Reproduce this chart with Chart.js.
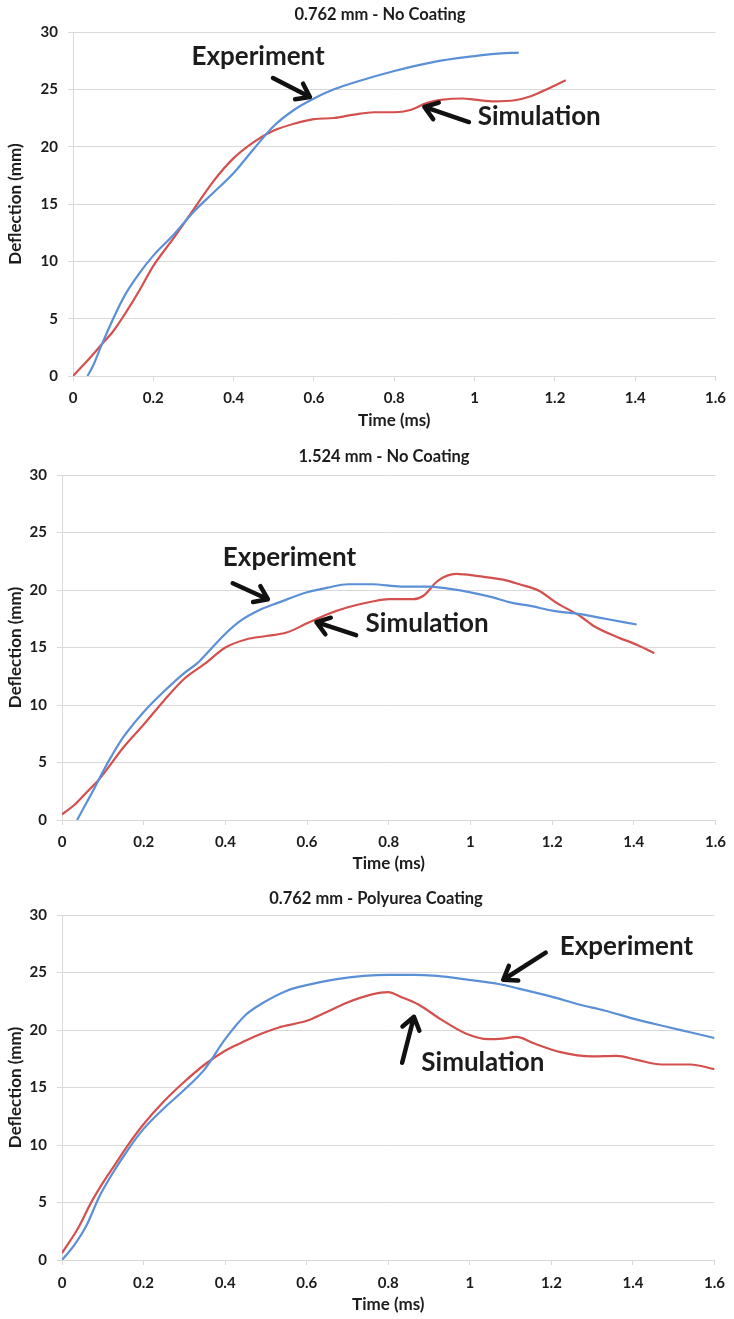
<!DOCTYPE html>
<html><head><meta charset="utf-8">
<script src="https://cdn.jsdelivr.net/npm/chart.js@4.4.0/dist/chart.umd.min.js"></script>
<style>
html,body{margin:0;padding:0;background:#fff;width:734px;height:1319px;overflow:hidden;}
.wrap{position:absolute;left:0;width:734px;}
canvas{display:block;}
</style></head><body>
<div class="wrap" style="top:0;height:440px"><canvas id="c1" width="734" height="440"></canvas></div>
<div class="wrap" style="top:440px;height:440px"><canvas id="c2" width="734" height="440"></canvas></div>
<div class="wrap" style="top:880px;height:439px"><canvas id="c3" width="734" height="439"></canvas></div>
<script>
// ---------- DATA ----------
const xTickLabels = ['0','0.2','0.4','0.6','0.8','1','1.2','1.4','1.6'];
const yTickLabels = ['0','5','10','15','20','25','30'];
const chartTitles = ['0.762 mm - No Coating','1.524 mm - No Coating','0.762 mm - Polyurea Coating'];
const xAxisTitle = 'Time (ms)';
const yAxisTitle = 'Deflection (mm)';
const seriesNames = ['Experiment','Simulation'];

// Chart 1: 0.762 mm - No Coating
const exp1Time = [0.036,0.05,0.07,0.1,0.13,0.166,0.2,0.25,0.3,0.35,0.4,0.45,0.5,0.55,0.6,0.65,0.7,0.8,0.9,1.0,1.05,1.11];
const exp1Defl = [0,0.9,2.6,5.0,7.1,9.0,10.5,12.3,14.3,16.0,17.7,19.8,21.8,23.2,24.2,25.0,25.6,26.6,27.4,27.9,28.1,28.2];
const sim1Time = [0,0.035,0.07,0.1,0.131,0.166,0.2,0.25,0.3,0.35,0.4,0.45,0.5,0.55,0.6,0.65,0.7,0.75,0.8,0.84,0.88,0.92,0.97,1.0,1.05,1.1,1.14,1.18,1.227];
const sim1Defl = [0,1.3,2.7,3.9,5.5,7.5,9.6,12.0,14.5,17.0,19.0,20.4,21.4,22.0,22.4,22.5,22.8,23.0,23.0,23.2,23.8,24.1,24.2,24.1,23.95,24.05,24.4,25.0,25.8];

// Chart 2: 1.524 mm - No Coating
const exp2Time = [0.037,0.06,0.08,0.1,0.122,0.15,0.2,0.25,0.3,0.33,0.36,0.4,0.44,0.48,0.53,0.6,0.65,0.7,0.76,0.83,0.9,0.95,1.0,1.05,1.1,1.15,1.2,1.27,1.33,1.407];
const exp2Defl = [0,1.5,2.8,4.2,5.6,7.2,9.4,11.2,12.8,13.6,14.7,16.2,17.4,18.2,18.9,19.8,20.2,20.5,20.5,20.3,20.3,20.1,19.8,19.4,18.9,18.6,18.2,17.9,17.5,17.0];
const sim2Time = [0,0.03,0.06,0.09,0.11,0.15,0.2,0.25,0.3,0.35,0.4,0.45,0.5,0.55,0.6,0.65,0.7,0.76,0.8,0.86,0.885,0.92,0.965,1.02,1.08,1.12,1.17,1.21,1.27,1.305,1.36,1.41,1.45];
const sim2Defl = [0.5,1.3,2.4,3.5,4.4,6.3,8.3,10.4,12.3,13.6,15.0,15.7,16.0,16.3,17.1,17.9,18.5,19.0,19.2,19.2,19.5,20.8,21.4,21.2,20.9,20.5,19.9,18.9,17.7,16.8,15.9,15.2,14.5];

// Chart 3: 0.762 mm - Polyurea Coating
const exp3Time = [0,0.03,0.06,0.09,0.12,0.16,0.2,0.25,0.3,0.35,0.4,0.45,0.49,0.55,0.6,0.67,0.74,0.8,0.86,0.92,0.99,1.07,1.12,1.2,1.27,1.33,1.41,1.48,1.54,1.6];
const exp3Defl = [0,1.3,3.0,5.4,7.3,9.5,11.4,13.2,14.8,16.6,19.2,21.3,22.3,23.4,23.9,24.4,24.7,24.8,24.8,24.7,24.4,24.0,23.6,22.9,22.2,21.7,20.9,20.3,19.8,19.3];
const sim3Time = [0,0.04,0.07,0.1,0.13,0.16,0.2,0.25,0.3,0.35,0.4,0.44,0.49,0.53,0.6,0.645,0.7,0.76,0.8,0.83,0.875,0.93,0.99,1.045,1.08,1.114,1.16,1.22,1.3,1.36,1.41,1.47,1.54,1.6];
const sim3Defl = [0.6,2.8,4.9,6.7,8.3,9.9,11.8,13.8,15.5,17.0,18.2,18.9,19.7,20.2,20.8,21.5,22.4,23.1,23.3,22.9,22.2,20.9,19.7,19.2,19.25,19.4,18.8,18.1,17.7,17.75,17.4,17.0,17.0,16.6];

// ---------- STYLE / LAYOUT ----------
const BLUE = '#5b90d6';
const RED = '#d4504e';
const GRID = '#d9d9d9';
const TEXT = '#1c1c1c';
const FONT = "Lato, 'Open Sans', sans-serif";

function pts(t, d){ return t.map((v,i)=>({x:v, y:d[i]})); }

function arrow(ctx, x1, y1, x2, y2){
  const ang = Math.atan2(y2 - y1, x2 - x1);
  ctx.strokeStyle = '#111'; ctx.lineWidth = 4.5; ctx.lineCap = 'round'; ctx.lineJoin = 'round';
  ctx.beginPath();
  ctx.moveTo(x1, y1); ctx.lineTo(x2, y2);
  const L = 15, A = 0.62;
  ctx.moveTo(x2 - L*Math.cos(ang - A), y2 - L*Math.sin(ang - A));
  ctx.lineTo(x2, y2);
  ctx.lineTo(x2 - L*Math.cos(ang + A), y2 - L*Math.sin(ang + A));
  ctx.stroke();
}

const overlay = {
  id: 'overlay',
  afterDraw(chart, args, o){
    const ctx = chart.ctx, xs = chart.scales.x, ys = chart.scales.y;
    ctx.save();
    ctx.fillStyle = TEXT; ctx.textAlign = 'center'; ctx.textBaseline = 'middle';
    ctx.font = 'bold 16.5px ' + FONT;
    ctx.fillText(o.title, o.titleX, o.titleY);
    ctx.font = 'bold 26px ' + FONT;
    for (const n of o.notes){
      ctx.fillText(n.text, xs.getPixelForValue(n.tx), ys.getPixelForValue(n.ty));
      arrow(ctx, xs.getPixelForValue(n.fx), ys.getPixelForValue(n.fy), xs.getPixelForValue(n.hx), ys.getPixelForValue(n.hy));
    }
    ctx.restore();
  }
};

function makeChart(id, L, series, title, notes){
  const ctx = document.getElementById(id);
  return new Chart(ctx, {
    type: 'line',
    data: { datasets: [
      { label: seriesNames[0], data: pts(series[0], series[1]), borderColor: BLUE, borderWidth: 2.2, pointRadius: 0, cubicInterpolationMode: 'monotone', fill: false },
      { label: seriesNames[1], data: pts(series[2], series[3]), borderColor: RED, borderWidth: 2.2, pointRadius: 0, cubicInterpolationMode: 'monotone', fill: false }
    ]},
    options: {
      responsive: false, animation: false, devicePixelRatio: 1,
      layout: { padding: { top: L.top, right: 734 - L.right, left: 0, bottom: 0 } },
      plugins: {
        legend: { display: false }, tooltip: { enabled: false }, title: { display: false },
        overlay: { title: title, titleX: L.titleX, titleY: L.titleY, notes: notes }
      },
      scales: {
        x: {
          type: 'linear', min: 0, max: 1.6,
          afterFit: s => { s.height = L.h - L.bottom; },
          ticks: { stepSize: 0.2, padding: L.xPad, color: TEXT, font: { family: FONT, size: 15, weight: 'bold' },
                   maxRotation: 0, autoSkip: false, callback: (v, i) => xTickLabels[i] },
          grid: { drawOnChartArea: false, drawTicks: true, tickLength: 5, color: GRID },
          border: { color: GRID, width: 1 },
          title: { display: true, text: xAxisTitle, color: TEXT, font: { family: FONT, size: 17, weight: 'bold' }, padding: { top: 0, bottom: L.xtPad } }
        },
        y: {
          min: 0, max: 30,
          afterFit: s => { s.width = L.left; },
          ticks: { stepSize: 5, padding: 10, color: TEXT, font: { family: FONT, size: 15, weight: 'bold' }, callback: (v, i) => yTickLabels[i] },
          grid: { color: GRID, tickLength: 5, lineWidth: 1 },
          border: { color: GRID, width: 1 },
          title: { display: true, text: yAxisTitle, color: TEXT, font: { family: FONT, size: 17, weight: 'bold' }, padding: { top: 5, bottom: 0 } }
        }
      }
    },
    plugins: [overlay]
  });
}

function build(){
  makeChart('c1', { h: 440, top: 32, bottom: 376, left: 73, right: 720, titleX: 380, titleY: 15, xPad: 8, xtPad: 9 },
    [exp1Time, exp1Defl, sim1Time, sim1Defl], chartTitles[0],
    [ { text: seriesNames[0], tx: 0.461, ty: 27.85, fx: 0.498, fy: 25.99, hx: 0.59, hy: 24.33 },
      { text: seriesNames[1], tx: 1.161, ty: 22.62, fx: 0.986, fy: 22.15, hx: 0.875, hy: 23.46 } ]);
  makeChart('c2', { h: 440, top: 35, bottom: 380, left: 62, right: 720, titleX: 384, titleY: 17, xPad: 8, xtPad: 6 },
    [exp2Time, exp2Defl, sim2Time, sim2Defl], chartTitles[1],
    [ { text: seriesNames[0], tx: 0.557, ty: 22.85, fx: 0.418, fy: 20.59, hx: 0.504, hy: 19.2 },
      { text: seriesNames[1], tx: 0.894, ty: 17.12, fx: 0.72, fy: 16.07, hx: 0.623, hy: 17.2 } ]);
  makeChart('c3', { h: 439, top: 35, bottom: 380, left: 62, right: 720, titleX: 376, titleY: 19, xPad: 9, xtPad: 4 },
    [exp3Time, exp3Defl, sim3Time, sim3Defl], chartTitles[2],
    [ { text: seriesNames[0], tx: 1.384, ty: 27.24, fx: 1.186, fy: 26.72, hx: 1.082, hy: 24.37 },
      { text: seriesNames[1], tx: 1.032, ty: 17.15, fx: 0.834, fy: 17.15, hx: 0.863, hy: 21.15 } ]);
}

if (document.fonts && document.fonts.load) {
  Promise.all([document.fonts.load('bold 15px Lato'), document.fonts.load('bold 26px Lato')]).then(build, build);
} else { build(); }
</script>
</body></html>
